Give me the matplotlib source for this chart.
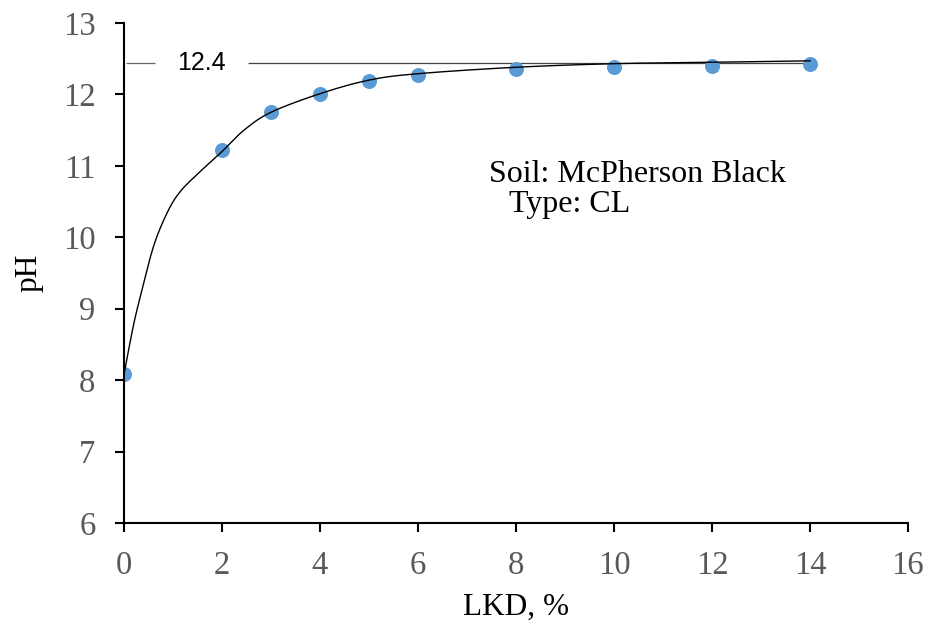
import numpy as np
import matplotlib
matplotlib.use("Agg")
import matplotlib.pyplot as plt

# Data points
lkd = [0, 2, 3, 4, 5, 6, 8, 10, 12, 14]
ph = [8.08, 11.22, 11.75, 12.01, 12.19, 12.27, 12.35, 12.39, 12.40, 12.43]

# Fitted curve
curve_x = [0, 0.2, 0.4, 0.62, 0.9, 1.16, 1.57, 2.0, 2.45, 3, 4, 5, 6, 8, 10, 12, 14]
curve_y = [8.08, 8.79, 9.35, 9.91, 10.37, 10.65, 10.93, 11.2, 11.5, 11.75, 12.01, 12.2, 12.29, 12.38, 12.43, 12.45, 12.47]

# Reference line
ref_value = 12.44
ref_label = "12.4"

xticks = [0, 2, 4, 6, 8, 10, 12, 14, 16]
yticks = [6, 7, 8, 9, 10, 11, 12, 13]


def catmull_rom(x, y, n=40):
    x = np.asarray(x, float); y = np.asarray(y, float)
    px = np.concatenate([[2 * x[0] - x[1]], x, [2 * x[-1] - x[-2]]])
    py = np.concatenate([[2 * y[0] - y[1]], y, [2 * y[-1] - y[-2]]])
    ox, oy = [], []
    t = np.linspace(0, 1, n, endpoint=False)
    for i in range(1, len(px) - 2):
        for arr, out in ((px, ox), (py, oy)):
            p0, p1, p2, p3 = arr[i - 1], arr[i], arr[i + 1], arr[i + 2]
            out.extend(0.5 * (2 * p1 + (-p0 + p2) * t + (2 * p0 - 5 * p1 + 4 * p2 - p3) * t**2
                              + (-p0 + 3 * p1 - 3 * p2 + p3) * t**3))
    ox.append(x[-1]); oy.append(y[-1])
    return np.array(ox), np.array(oy)


fig = plt.figure(figsize=(9.33, 6.26), dpi=100)
ax = fig.add_axes([0.1329, 0.1645, 0.9732 - 0.1329, 0.9633 - 0.1645])

serif = "Liberation Serif"
grey = "#595959"

cx, cy = catmull_rom(curve_x, curve_y)
ax.plot(cx, cy, color="black", lw=1.0, zorder=3)
ax.plot(lkd, ph, "o", color="#5B9BD5", markersize=10.8, markeredgewidth=0, zorder=2)

ax.hlines(ref_value, 0.04, 0.63, color="#666666", lw=0.9, zorder=1)
ax.hlines(ref_value, 2.53, 14.08, color="#444444", lw=0.9, zorder=1)
ax.text(1.08, ref_value, ref_label, family="Liberation Sans", fontsize=18, va="center", ha="left")

ax.text(7.44, 10.77, "Soil: McPherson Black", family=serif, fontsize=23, va="baseline", ha="left")
ax.text(7.85, 10.355, "Type: CL", family=serif, fontsize=23, va="baseline", ha="left")

ax.set_xlim(0, 16)
ax.set_ylim(6, 13)
ax.set_xticks(xticks)
ax.set_yticks(yticks)
ax.tick_params(direction="out", length=6.5, width=1.5, color="black", labelsize=23.5, labelcolor=grey)
ax.tick_params(axis="x", pad=13)
ax.tick_params(axis="y", pad=14)
for lab in ax.get_xticklabels() + ax.get_yticklabels():
    lab.set_family(serif)
for s in ["top", "right"]:
    ax.spines[s].set_visible(False)
for s in ["left", "bottom"]:
    ax.spines[s].set_linewidth(1.5)
ax.set_xlabel("LKD, %", family=serif, fontsize=22.5, labelpad=9)
ax.set_ylabel("pH", family=serif, fontsize=22.5, labelpad=14)

fig.savefig("out.png", dpi=100)
